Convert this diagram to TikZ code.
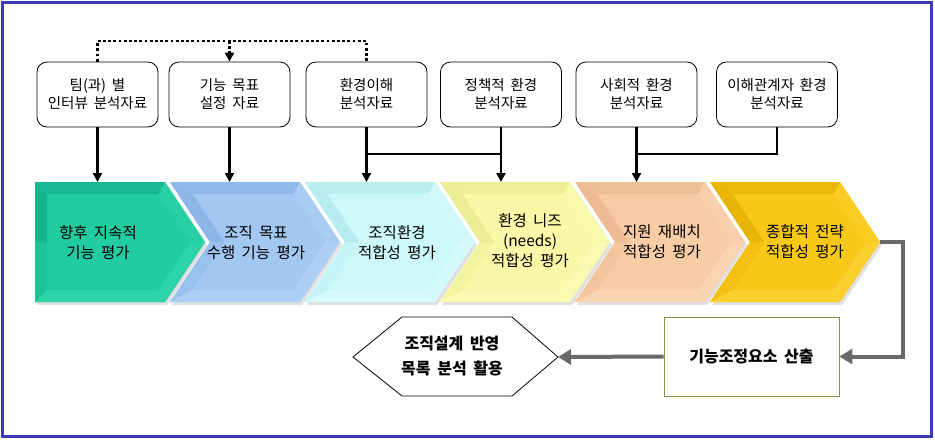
\documentclass[tikz,border=0pt]{standalone}
\usepackage{fontspec}
\setmainfont[WordSpace=1.8]{Noto Sans CJK KR}
\usetikzlibrary{arrows.meta}
\definecolor{frameblue}{HTML}{3C3CB4}
\definecolor{olivebd}{HTML}{8C8C3C}
\definecolor{grayln}{HTML}{6A6A6A}
\definecolor{c1m}{HTML}{20CCA0}\definecolor{c1d}{HTML}{10A888}\definecolor{c1l}{HTML}{3CDDB4}
\definecolor{c2m}{HTML}{A2C8F2}\definecolor{c2d}{HTML}{82AAE2}\definecolor{c2l}{HTML}{BCD8F8}
\definecolor{c3m}{HTML}{CCF8F8}\definecolor{c3d}{HTML}{AAE6EA}\definecolor{c3l}{HTML}{E2FCFC}
\definecolor{c4m}{HTML}{F8F8A6}\definecolor{c4d}{HTML}{E6E68C}\definecolor{c4l}{HTML}{FCFCC8}
\definecolor{c5m}{HTML}{F8CCA4}\definecolor{c5d}{HTML}{E8B48A}\definecolor{c5l}{HTML}{FCDCC0}
\definecolor{c6m}{HTML}{F8C818}\definecolor{c6d}{HTML}{E2A800}\definecolor{c6l}{HTML}{FCDA48}
% #1 start x, #2 main, #3 dark, #4 light, #5 notch depth
\newcommand\mychev[5]{%
  \fill[black!30,opacity=.4] ({#1+2},185) -- ({#1+132},185) -- ({#1+172},245) -- ({#1+132},305) -- ({#1+2},305) -- ({#1+2+#5},245) -- cycle;
  \fill[#2] (#1,182) -- ({#1+130},182) -- ({#1+170},242) -- ({#1+130},302) -- (#1,302) -- ({#1+#5},242) -- cycle;
  \fill[#2!45!#3] (#1,182) -- ({#1+130},182) -- ({#1+123.6},194) -- ({#1+12+0.26*#5},194) -- cycle;
  \fill[#2!75!#4] ({#1+130},182) -- ({#1+170},242) -- ({#1+155.6},242) -- ({#1+123.6},194) -- cycle;
  \fill[#2!55!#4] ({#1+170},242) -- ({#1+130},302) -- ({#1+123.6},290) -- ({#1+155.6},242) -- cycle;
  \fill[#2!55!#4] ({#1+130},302) -- (#1,302) -- ({#1+12+0.26*#5},290) -- ({#1+123.6},290) -- cycle;
  \fill[#2!75!#3] (#1,302) -- ({#1+#5},242) -- ({#1+12+1.06*#5},242) -- ({#1+12+0.26*#5},290) -- cycle;
  \fill[#2!35!#3] ({#1+#5},242) -- (#1,182) -- ({#1+12+0.26*#5},194) -- ({#1+12+1.06*#5},242) -- cycle;
}
\tikzset{
  topbox/.style={draw, fill=white, rounded corners=10pt, line width=0.8pt,
    minimum width=121pt, minimum height=65pt, align=center, inner sep=2pt,
    font=\fontsize{14.5}{18}\selectfont},
  chevtext/.style={align=center, inner sep=1pt, font=\fontsize{15.5}{20}\selectfont},
  blkarrow/.style={line width=2.6pt, -{Triangle[width=9pt,length=9pt]}},
  blkline/.style={line width=2.6pt},
  dotline/.style={line width=2.8pt, dash pattern=on 2.8pt off 2.4pt},
  grayarrow/.style={line width=4pt, draw=grayln, -{Triangle[width=15pt,length=13pt]}},
}
\begin{document}
\begin{tikzpicture}[x=1pt,y=-1pt]
\useasboundingbox (0,0) rectangle (935,440);
\fill[white] (0,0) rectangle (935,440);
\draw[frameblue, line width=3.2pt] (2.5,2.5) rectangle (931.5,436.5);

% chevrons
\mychev{35}{c1m}{c1d}{c1l}{0}
\mychev{170}{c2m}{c2d}{c2l}{40}
\mychev{305}{c3m}{c3d}{c3l}{40}
\mychev{440}{c4m}{c4d}{c4l}{40}
\mychev{575}{c5m}{c5d}{c5l}{40}
\mychev{710}{c6m}{c6d}{c6l}{40}

\node[chevtext] (k1) at (98,243) {향후 지속적\\기능 평가};
\node[chevtext] (k2) at (256,243) {조직 목표\\수행 기능 평가};
\node[chevtext] (k3) at (397,243) {조직환경\\적합성 평가};
\node[chevtext] (k4) at (530,241) {환경 니즈\\(needs)\\적합성 평가};
\node[chevtext] (k5) at (662,242) {지원 재배치\\적합성 평가};
\node[chevtext] (k6) at (805,242) {종합적 전략\\적합성 평가};

\coordinate (t1) at (97.5,182);
\coordinate (t2) at (229.5,182);
\coordinate (t3) at (366.5,182);
\coordinate (t4) at (501,182);
\coordinate (t5) at (636.5,182);
\coordinate (j0) at (0,41);
\coordinate (j1) at (0,154);
\coordinate (c6tip) at (880,242);
\coordinate (hexR) at (558,357);

% top boxes
\node[topbox] (b1) at (97.5,94.5) {팀(과) 별\\인터뷰 분석자료};
\node[topbox] (b2) at (229.5,94.5) {기능 목표\\설정 자료};
\node[topbox] (b3) at (366.5,94.5) {환경이해\\분석자료};
\node[topbox] (b4) at (501,94.5) {정책적 환경\\분석자료};
\node[topbox] (b5) at (636.5,94.5) {사회적 환경\\분석자료};
\node[topbox] (b6) at (777,94.5) {이해관계자 환경\\분석자료};

% dotted link
\draw[dotline] (b1.north) |- (j0 -| b3.north) -- (b3.north);
\draw[dotline, -{Triangle[width=9pt,length=9pt]}] (j0 -| b2.north) -- (b2.north);

% solid connectors
\draw[blkarrow] (b1.south) -- (t1);
\draw[blkarrow] (b2.south) -- (t2);
\draw[blkarrow] (b3.south) -- (t3);
\draw[blkarrow] (b4.south) -- (t4);
\draw[blkline] (j1 -| b3.south) -- (j1 -| b4.south);
\draw[blkarrow] (b5.south) -- (t5);
\draw[blkline] (b6.south) |- (j1 -| b5.south);

% bottom
\node[draw=olivebd, line width=0.9pt, fill=white, minimum width=175pt, minimum height=79pt,
  font=\bfseries\fontsize{16}{20}\selectfont] (calc) at (751.5,356.5) {기능조정요소 산출};
\draw[line width=0.8pt, fill=white] (353,357) -- (402,317) -- (512,317) -- (hexR) -- (512,396) -- (402,396) -- cycle;
\node[align=center, font=\bfseries\fontsize{16}{25}\selectfont] (hex) at (452,356) {조직설계 반영\\목록 분석 활용};

\draw[grayarrow] (c6tip) -- ++(23,0) |- (calc.east);
\draw[grayarrow] (calc.west) -- (hexR);
\end{tikzpicture}
\end{document}
